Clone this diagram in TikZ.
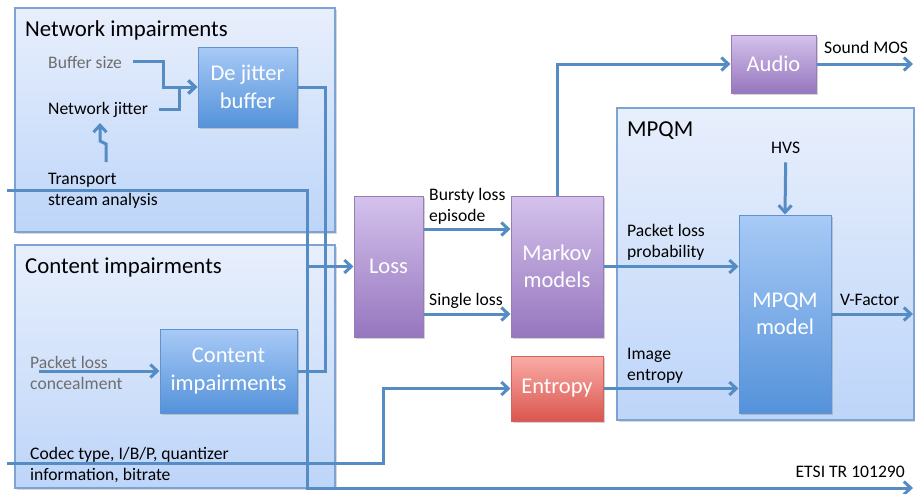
\documentclass[tikz,border=0pt]{standalone}
\usepackage{fontspec}
\setmainfont{Carlito}
\usetikzlibrary{arrows.meta,shadows}

\definecolor{linkblue}{RGB}{86,140,196}
\definecolor{panelline}{RGB}{125,163,212}
\definecolor{paneltop}{RGB}{232,239,252}
\definecolor{panelbot}{RGB}{189,213,249}
\definecolor{bluetop}{RGB}{168,202,246}
\definecolor{bluebot}{RGB}{84,146,218}
\definecolor{blueline}{RGB}{98,146,206}
\definecolor{purpletop}{RGB}{212,194,236}
\definecolor{purplebot}{RGB}{150,118,190}
\definecolor{purpleline}{RGB}{150,125,185}
\definecolor{redtop}{RGB}{250,172,166}
\definecolor{redbot}{RGB}{218,86,78}
\definecolor{redline}{RGB}{210,100,95}
\definecolor{labelgray}{RGB}{110,110,110}

\begin{document}
\begin{tikzpicture}[x=1pt,y=-1pt,
% the big light blue frames and the coloured blocks
panel/.style={
rectangle, draw=panelline, line width=1.2pt, inner sep=0,
top color=paneltop, bottom color=panelbot,
drop shadow={shadow xshift=1.5pt, shadow yshift=-1.5pt, opacity=0.3} },
block/.style={
rectangle, line width=1pt, inner sep=0,
text=white, align=center, font=\fontsize{22.5}{27.5}\selectfont,
drop shadow={shadow xshift=1.5pt, shadow yshift=-2pt, opacity=0.35} },
blueblock/.style={
block, draw=blueline, top color=bluetop, bottom color=bluebot },
purpleblock/.style={
block, draw=purpleline, top color=purpletop, bottom color=purplebot },
redblock/.style={
block, draw=redline, top color=redtop, bottom color=redbot },
title/.style={
anchor=base west, inner sep=0, font=\fontsize{22.8}{26}\selectfont },
% labels sit on the baseline of their last line
lbl/.style={
anchor=base west, inner sep=0, align=left, font=\fontsize{17.6}{21}\selectfont },
link/.style={
draw=linkblue, line width=3pt,
-{Straight Barb[length=7pt,width=13pt]} },
plainlink/.style={
draw=linkblue, line width=3pt },
]

\useasboundingbox[fill=white] (0,0) rectangle (915,493);

%%%%%%%%%%%%%%%%%%%%%%%%
%%% THE FRAMES
%%%%%%%%%%%%%%%%%%%%%%%%
\node[panel, minimum width=320, minimum height=224] (netpanel) at (175,120) {};
\node[title] at (25,36) {Network impairments};

\node[panel, minimum width=320, minimum height=243] (contpanel) at (175,366.5) {};
\node[title] at (25,273) {Content impairments};

\node[panel, minimum width=297, minimum height=312] (mpqmpanel) at (765.5,264) {};
\node[title] at (627,136) {MPQM};

%%%%%%%%%%%%%%%%%%%%%%%%
%%% THE BLOCKS
%%%%%%%%%%%%%%%%%%%%%%%%
\node[blueblock, minimum width=99, minimum height=80] (dejitter) at (247.5,87) {De jitter\\buffer};
\node[blueblock, minimum width=137, minimum height=84] (contimp) at (228.5,371) {Content\\impairments};
\node[purpleblock, minimum width=69, minimum height=141] (loss) at (388.5,266.5) {Loss};
\node[purpleblock, minimum width=92, minimum height=141] (markov) at (557,266.5) {Markov\\models};
\node[purpleblock, minimum width=85, minimum height=58] (audio) at (773.5,64) {Audio};
\node[redblock, minimum width=92, minimum height=65] (entropy) at (557,388.5) {Entropy};
\node[blueblock, minimum width=92, minimum height=198] (mpqmmodel) at (785,314) {MPQM\\model};

%%%%%%%%%%%%%%%%%%%%%%%%
%%% THE LABELS
%%%%%%%%%%%%%%%%%%%%%%%%
\node[lbl, text=labelgray] (bufsize) at (48,68) {Buffer size};
\node[lbl] (netjit) at (48,114) {Network jitter};
\node[lbl] (transp) at (48,205) {Transport\\stream analysis};
\node[lbl, text=labelgray] (plc) at (30,389) {Packet loss\\concealment};
\node[lbl] (codec) at (30,480) {Codec type, I/B/P, quantizer\\information, bitrate};
\node[lbl] (bursty) at (429,221) {Bursty loss\\episode};
\node[lbl] (single) at (429,305) {Single loss};
\node[lbl] (mos) at (824,53) {Sound MOS};
\node[lbl] (hvs) at (771,153) {HVS};
\node[lbl] (plp) at (627,257) {Packet loss\\probability};
\node[lbl] (imgent) at (627,380) {Image\\entropy};
\node[lbl] (vfactor) at (840,305) {V-Factor};
\node[lbl, anchor=base east] (etsitxt) at (905,477) {ETSI TR 101290};

%%%%%%%%%%%%%%%%%%%%%%%%
%%% THE CONNECTORS
%%%%%%%%%%%%%%%%%%%%%%%%
\coordinate (tsout) at (106,162);
\coordinate (jitin) at (100,123);
\coordinate (tsin) at (7,190);
\coordinate (tsturn) at (307,488);
\coordinate (etsiout) at (913,488);
\coordinate (plcin) at (39,371);
\coordinate (codecin) at (7,463);
\coordinate (mosout) at (913,64);
\coordinate (vfout) at (913,314);

% network impairments
\draw[link] ([xshift=11pt]bufsize.east) -| ([xshift=-34pt]dejitter.west) -- (dejitter.west);
\draw[link] ([xshift=11pt]netjit.east) -| ([xshift=-18pt]dejitter.west) -- (dejitter.west);
\draw[link] (tsout) -- ++(0,-18) -- ++(-6,-3) -- (jitin);
\draw[plainlink] (dejitter.east) -- ++(28,0) |- (contimp.east);

% the long lines from the left
\draw[link] (tsin) -| (tsturn) -- (etsiout);
\draw[link] (loss.west -| tsturn) -- (loss.west);
\draw[link] (plcin) -- (contimp.west);
\draw[link] (codecin) -- ++(376,0) |- (entropy.west);

% loss and models
\draw[link] ([yshift=37.5pt]loss.east) -- ([yshift=37.5pt]markov.west);
\draw[link] ([yshift=-47.5pt]loss.east) -- ([yshift=-47.5pt]markov.west);
\draw[link] (markov.north) |- (audio.west);
\draw[link] (audio.east) -- (mosout);
\draw[link] ([yshift=-9pt]hvs.south) -- (mpqmmodel.north);
\draw[link] (markov.east) -- (mpqmmodel.west |- markov.east);
\draw[link] (entropy.east) -- (mpqmmodel.west |- entropy.east);
\draw[link] (mpqmmodel.east) -- (vfout);

\end{tikzpicture}
\end{document}
